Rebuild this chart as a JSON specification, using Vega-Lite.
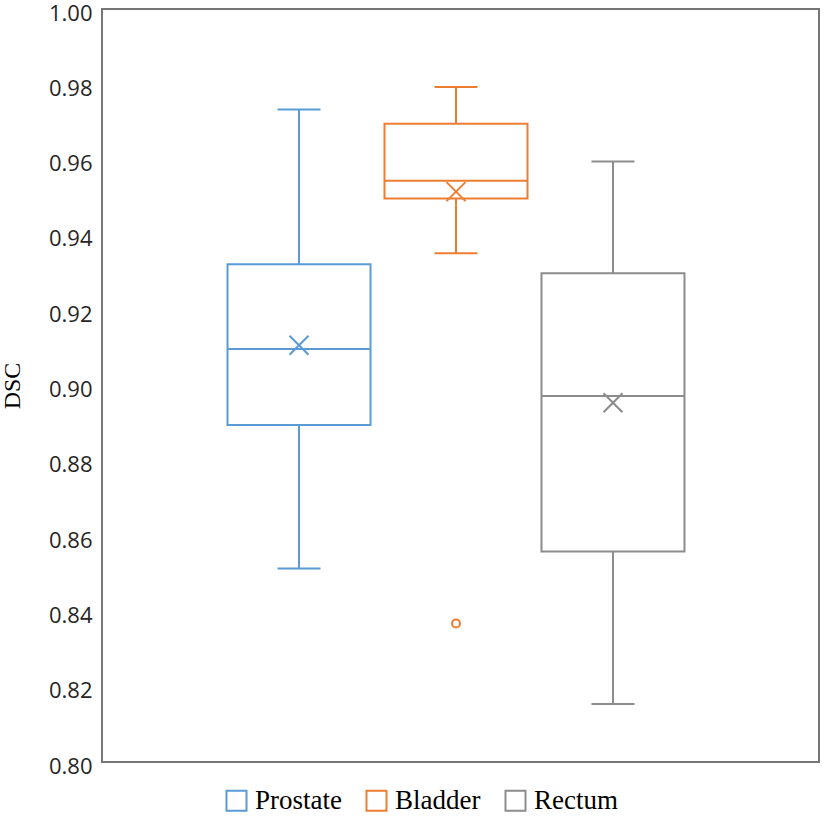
{
  "$schema": "https://vega.github.io/schema/vega-lite/v6.json",
  "width": 717,
  "height": 753,
  "autosize": {"type": "none"},
  "padding": {"left": 102, "top": 9, "right": 6, "bottom": 57},
  "background": "white",
  "config": {
    "view": {"stroke": "#767676", "strokeWidth": 2},
    "legend": {
      "orient": "none",
      "legendX": 121,
      "legendY": 778,
      "direction": "horizontal",
      "symbolType": "M-1,-1H1V1H-1Z M-0.82,-0.82V0.82H0.82V-0.82Z",
      "symbolSize": 484,
      "symbolStrokeWidth": 0,
      "labelFont": "Liberation Serif",
      "labelFontSize": 27,
      "labelColor": "black",
      "labelOffset": 5,
      "columnPadding": 21,
      "labelLimit": 300
    }
  },
  "datasets": {
    "box": [
      {"organ": "Prostate", "lower": 0.8514, "q1": 0.8895, "median": 0.9097, "q3": 0.9322, "upper": 0.9733, "mean": 0.9107},
      {"organ": "Bladder", "lower": 0.9351, "q1": 0.9497, "median": 0.9544, "q3": 0.9695, "upper": 0.9793, "mean": 0.9515},
      {"organ": "Rectum", "lower": 0.8154, "q1": 0.8559, "median": 0.8972, "q3": 0.9298, "upper": 0.9595, "mean": 0.8954}
    ],
    "out": [
      {"organ": "Bladder", "value": 0.8368}
    ]
  },
  "encoding": {
    "x": {
      "field": "organ",
      "type": "nominal",
      "sort": ["Prostate", "Bladder", "Rectum"],
      "scale": {"domain": ["Prostate", "Bladder", "Rectum"], "range": [0, 708], "paddingInner": 0, "paddingOuter": 0.755},
      "axis": null
    }
  },
  "layer": [
    {
      "data": {"name": "box"},
      "mark": {"type": "bar", "size": 143, "filled": false, "strokeWidth": 2, "opacity": 1},
      "encoding": {
        "y": {
          "field": "q1",
          "type": "quantitative",
          "scale": {"domain": [0.8, 1.0], "nice": false, "zero": false},
          "axis": {
            "values": [0.8, 0.82, 0.84, 0.86, 0.88, 0.9, 0.92, 0.94, 0.96, 0.98, 1.0],
            "format": ".2f",
            "ticks": false,
            "domain": false,
            "grid": false,
            "labelOverlap": false,
            "labelFont": "Open Sans",
            "labelFontSize": 22,
            "labelColor": "#262626",
            "labelPadding": 10,
            "labelOffset": 4,
            "title": "DSC",
            "titleFont": "Liberation Serif",
            "titleFontSize": 24,
            "titleFontWeight": "normal",
            "titleColor": "black",
            "titlePadding": 24
          }
        },
        "y2": {"field": "q3"},
        "stroke": {
          "field": "organ",
          "type": "nominal",
          "sort": ["Prostate", "Bladder", "Rectum"],
          "scale": {"domain": ["Prostate", "Bladder", "Rectum"], "range": ["#5B9BD5", "#ED7D31", "#8C8C8C"]},
          "legend": {
            "title": null,
            "symbolType": "M-1,-1H1V1H-1Z M-0.82,-0.82V0.82H0.82V-0.82Z",
            "symbolStrokeWidth": 0
          }
        }
      }
    },
    {
      "data": {"name": "box"},
      "mark": {"type": "rule", "strokeWidth": 2},
      "encoding": {
        "y": {"field": "lower", "type": "quantitative"},
        "y2": {"field": "q1"},
        "stroke": {"field": "organ", "type": "nominal"}
      }
    },
    {
      "data": {"name": "box"},
      "mark": {"type": "rule", "strokeWidth": 2},
      "encoding": {
        "y": {"field": "q3", "type": "quantitative"},
        "y2": {"field": "upper"},
        "stroke": {"field": "organ", "type": "nominal"}
      }
    },
    {
      "data": {"name": "box"},
      "mark": {"type": "tick", "size": 43, "thickness": 2, "orient": "horizontal", "opacity": 1},
      "encoding": {
        "y": {"field": "lower", "type": "quantitative"},
        "fill": {
          "field": "organ",
          "type": "nominal",
          "scale": {"domain": ["Prostate", "Bladder", "Rectum"], "range": ["#5B9BD5", "#ED7D31", "#8C8C8C"]},
          "legend": null
        }
      }
    },
    {
      "data": {"name": "box"},
      "mark": {"type": "tick", "size": 43, "thickness": 2, "orient": "horizontal", "opacity": 1},
      "encoding": {
        "y": {"field": "upper", "type": "quantitative"},
        "fill": {"field": "organ", "type": "nominal", "legend": null}
      }
    },
    {
      "data": {"name": "box"},
      "mark": {"type": "tick", "size": 144, "thickness": 2, "orient": "horizontal", "opacity": 1},
      "encoding": {
        "y": {"field": "median", "type": "quantitative"},
        "fill": {"field": "organ", "type": "nominal", "legend": null}
      }
    },
    {
      "data": {"name": "box"},
      "mark": {"type": "point", "shape": "M-1,-1L1,1M-1,1L1,-1", "size": 361, "filled": false, "strokeWidth": 2, "opacity": 1},
      "encoding": {
        "y": {"field": "mean", "type": "quantitative"},
        "stroke": {"field": "organ", "type": "nominal"}
      }
    },
    {
      "data": {"name": "out"},
      "mark": {"type": "point", "shape": "circle", "size": 64, "filled": false, "strokeWidth": 2, "opacity": 1},
      "encoding": {
        "y": {"field": "value", "type": "quantitative"},
        "stroke": {"field": "organ", "type": "nominal"}
      }
    }
  ]
}
